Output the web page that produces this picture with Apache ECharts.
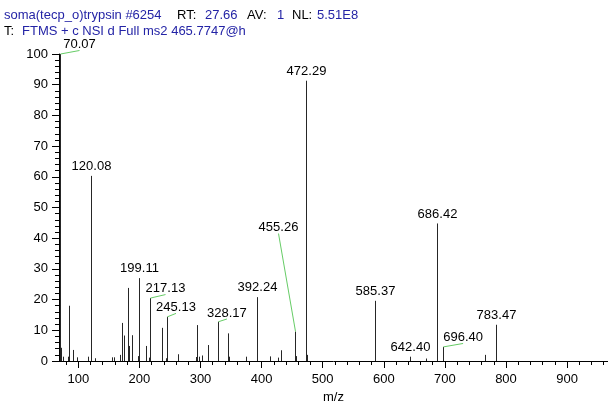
<!DOCTYPE html>
<html>
<head>
<meta charset="utf-8">
<script src="https://cdn.jsdelivr.net/npm/echarts@6/dist/echarts.min.js"></script>
<style>
  html, body { margin: 0; padding: 0; background: #fff; }
  #chart { width: 608px; height: 403px; }
</style>
</head>
<body>
<div id="chart"></div>
<script>
// Centroided MS2 peak list: m/z and relative abundance (%)
const peakMz = [
  70.07, 71.07, 74.8, 83.6, 84.6, 91.8, 98.3, 116.3, 120.08, 121.08,
  126.6, 154.4, 157.7, 168.0, 171.3, 174.5, 181.1, 182.2, 183.5, 187.1,
  198.1, 199.11, 211.1, 215.4, 217.13, 236.2, 244.3, 245.13, 262.8, 292.8,
  294.5, 298.3, 302.6, 311.9, 328.17, 345.7, 347.4, 375.2, 392.24, 393.24,
  413.5, 427.0, 431.9, 455.26, 456.3, 472.29, 473.29, 474.4, 585.37, 642.40,
  668.9, 686.42, 687.42, 696.40, 765.4, 783.47, 784.47
];
const peakIntensity = [
  100, 4.3, 1.4, 1.4, 18.0, 3.6, 1.2, 1.4, 60.3, 4.9,
  0.9, 1.2, 1.2, 2.0, 12.4, 8.3, 23.8, 4.9, 0.9, 8.4,
  1.6, 27.0, 4.9, 1.1, 20.5, 10.8, 0.9, 14.4, 2.2, 1.3,
  11.7, 1.4, 1.8, 5.2, 12.8, 9.0, 1.4, 1.4, 20.8, 11.7,
  1.5, 1.1, 3.5, 9.6, 1.6, 91.3, 22.0, 2.0, 19.6, 1.4,
  0.8, 44.8, 15.2, 4.6, 2.0, 11.8, 5.7
];
// Peaks annotated with their m/z
const labelledMz = [
  70.07, 120.08, 199.11, 217.13, 245.13, 328.17, 392.24, 455.26,
  472.29, 585.37, 642.40, 686.42, 696.40, 783.47
];
// Axis tick labels
const xTickLabels = [100, 200, 300, 400, 500, 600, 700, 800, 900];
const yTickLabels = [0, 10, 20, 30, 40, 50, 60, 70, 80, 90, 100];

// Header lines
const headerLine1 = [
  ['soma(tecp_o)trypsin #6254', 'blue'], ['RT:', 'black'], ['27.66', 'blue'],
  ['AV:', 'black'], ['1', 'blue'], ['NL:', 'black'], ['5.51E8', 'blue']
];
const headerLine2 = [['T:', 'black'], ['FTMS + c NSI d Full ms2 465.7747@hc', 'blue']];

// Layout: header word x positions, leader-line offsets (px) for shifted labels
const header1X = [4, 177, 205, 247, 277, 292, 317];
const header2X = [4, 22];
const leaderShift = {
  '70.07': [19, -3.5],
  '217.13': [15, -3.5],
  '245.13': [8.5, -3.4],
  '328.17': [8.4, -2.7],
  '455.26': [-17, -98],
  '696.40': [19.6, -3.4]
};

const FONT = '"Liberation Sans", Arial, Helvetica, sans-serif';
const colors = { blue: '#2424a6', black: '#000000' };

const minorX = [];
for (let v = 80; v <= 960; v += 20) if (v % 100 !== 0) minorX.push(v);

const peaks = peakMz.map((m, i) => [m, peakIntensity[i]]);
const labelled = peaks.filter(p => labelledMz.indexOf(p[0]) !== -1);

function renderStick(params, api) {
  const m = api.value(0), h = api.value(1);
  const base = api.coord([m, 0]);
  const top = api.coord([m, h]);
  const x = Math.round(base[0]) + 0.5;
  return {
    type: 'line',
    shape: { x1: x, y1: base[1], x2: x, y2: top[1] },
    style: { stroke: '#262626', lineWidth: 1 }
  };
}

function renderLabel(params, api) {
  const m = api.value(0), h = api.value(1);
  const top = api.coord([m, h]);
  const px = Math.round(top[0]) + 0.5;
  const key = m.toFixed(2);
  const shift = leaderShift[key];
  const children = [];
  let tx = px, ty = top[1] - 9.5;
  if (shift) {
    const ex = px + shift[0], ey = top[1] + shift[1];
    children.push({
      type: 'line',
      shape: { x1: px, y1: top[1], x2: ex, y2: ey },
      style: { stroke: '#66cc66', lineWidth: 1 }
    });
    tx = ex; ty = ey - 6;
  }
  children.push({
    type: 'text', x: tx, y: ty,
    style: { text: key, fill: '#000', font: '13px ' + FONT, align: 'center', verticalAlign: 'middle' }
  });
  return { type: 'group', children };
}

const graphic = [];
headerLine1.forEach((w, i) => graphic.push({
  type: 'text', x: header1X[i], y: 15,
  style: { text: w[0], fill: colors[w[1]], font: '13px ' + FONT, verticalAlign: 'middle' }
}));
headerLine2.forEach((w, i) => graphic.push({
  type: 'text', x: header2X[i], y: 31,
  style: Object.assign(
    { text: w[0], fill: colors[w[1]], font: '13px ' + FONT, verticalAlign: 'middle' },
    i === 1 ? { width: 226, overflow: 'truncate', ellipsis: '' } : {}
  )
}));

const chart = echarts.init(document.getElementById('chart'), null, { renderer: 'canvas' });
chart.setOption({
  animation: false,
  backgroundColor: '#fff',
  grid: { left: 59, right: 0, top: 54, bottom: 42, containLabel: false, outerBoundsMode: 'none' },
  graphic: graphic,
  xAxis: [{
    type: 'value', min: 68.4, max: 967,
    axisLine: { show: true, onZero: false, lineStyle: { color: '#000', width: 1 } },
    axisTick: { show: true, length: 7, customValues: xTickLabels, lineStyle: { color: '#000' } },
    axisLabel: { customValues: xTickLabels, color: '#000', fontSize: 13, fontFamily: FONT, margin: 12 },
    splitLine: { show: false },
    name: 'm/z', nameLocation: 'middle', nameGap: 28,
    nameTextStyle: { color: '#000', fontSize: 13, fontFamily: FONT }
  }, {
    type: 'value', min: 68.4, max: 967, position: 'bottom', offset: 0,
    axisLine: { show: false },
    axisTick: { show: true, length: 4, customValues: minorX, lineStyle: { color: '#000' } },
    axisLabel: { show: false },
    splitLine: { show: false }
  }],
  yAxis: {
    type: 'value', min: yTickLabels[0], max: yTickLabels[yTickLabels.length - 1], interval: 10,
    axisLine: { show: true, lineStyle: { color: '#000', width: 1 } },
    axisTick: { show: true, length: 7, lineStyle: { color: '#000' } },
    minorTick: { show: true, splitNumber: 5, length: 4, lineStyle: { color: '#000' } },
    axisLabel: { color: '#000', fontSize: 13, fontFamily: FONT, margin: 11 },
    splitLine: { show: false },
    minorSplitLine: { show: false }
  },
  series: [{
    type: 'custom', name: 'peaks', xAxisIndex: 0,
    renderItem: renderStick,
    encode: { x: 0, y: 1 },
    data: peaks, silent: true
  }, {
    type: 'custom', name: 'annotations', xAxisIndex: 0,
    renderItem: renderLabel,
    encode: { x: 0, y: 1 },
    data: labelled, silent: true, z: 3
  }]
});
</script>
</body>
</html>
